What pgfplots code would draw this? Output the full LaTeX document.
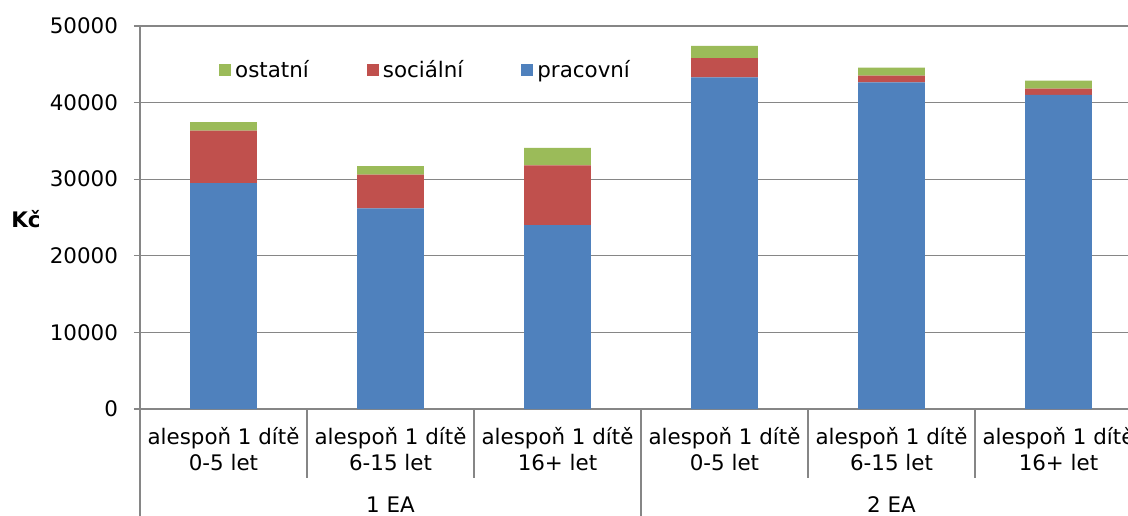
\documentclass[border=0pt]{standalone}
\usepackage{pgfplots}
\pgfplotsset{compat=1.18}
\usepackage{pgfplotstable}
\usepackage{fontspec}
\setmainfont{DejaVu Sans}

\definecolor{prac}{HTML}{4F81BD}
\definecolor{soc}{HTML}{C0504D}
\definecolor{ost}{HTML}{9BBB59}
\definecolor{gridc}{RGB}{134,134,134}

% x = category index, values in Kc
\pgfplotstableread{
x prac soc ost
0 29500 6850 1100
1 26200 4400 1100
2 24000 7800 2300
3 43300 2500 1600
4 42650 870 1040
5 41000 820 1040
}\data

\begin{document}
\begin{tikzpicture}[font=\fontsize{10.7}{13.3}\selectfont]
\useasboundingbox (-70pt,-53pt) rectangle (494pt,204.5pt);
\clip (-70pt,-53pt) rectangle (494pt,204.5pt);
\begin{axis}[
    scale only axis,
    width=501pt, height=191.5pt,
    at={(0,0)}, anchor=south west,
    ybar stacked, bar width=0.4,
    xmin=-0.5, xmax=5.5,
    ymin=0, ymax=50000,
    ytick={0,10000,...,50000},
    xtick=\empty,
    axis x line*=bottom, axis y line*=left,
    axis line style={gridc, line width=0.6pt, -},
    ymajorgrids, grid style={gridc, line width=0.6pt},
    tick align=outside, major tick length=3pt,
    ytick style={gridc, line width=0.6pt},
    scaled y ticks=false,
    yticklabel style={xshift=-4.5pt, /pgf/number format/1000 sep={}, /pgf/number format/assume math mode=true},
    clip=false,
    reverse legend,
    legend columns=3,
    legend image code/.code={\fill[#1] (0pt,-3pt) rectangle (6pt,3pt);},
    legend style={draw=none, fill=none, at={(0.286,0.885)}, anchor=center,
        /tikz/every even column/.append style={column sep=27pt}},
]
\addplot[fill=prac, draw=none] table[x=x, y=prac] {\data};
\addlegendentry{pracovní}
\addplot[fill=soc, draw=none] table[x=x, y=soc] {\data};
\addlegendentry{sociální}
\addplot[fill=ost, draw=none] table[x=x, y=ost] {\data};
\addlegendentry{ostatní}

% category separators
\draw[gridc, line width=0.6pt] (axis cs:0.5,0) -- ([yshift=-34.5pt]axis cs:0.5,0);
\draw[gridc, line width=0.6pt] (axis cs:1.5,0) -- ([yshift=-34.5pt]axis cs:1.5,0);
\draw[gridc, line width=0.6pt] (axis cs:3.5,0) -- ([yshift=-34.5pt]axis cs:3.5,0);
\draw[gridc, line width=0.6pt] (axis cs:4.5,0) -- ([yshift=-34.5pt]axis cs:4.5,0);
\draw[gridc, line width=0.6pt] (axis cs:-0.5,0) -- ([yshift=-60pt]axis cs:-0.5,0);
\draw[gridc, line width=0.6pt] (axis cs:2.5,0) -- ([yshift=-60pt]axis cs:2.5,0);
\draw[gridc, line width=0.6pt] (axis cs:5.5,0) -- ([yshift=-60pt]axis cs:5.5,0);

% category labels
\node[anchor=base] at (axis cs:0,0) [yshift=-17.5pt] {alespoň 1 dítě};
\node[anchor=base] at (axis cs:0,0) [yshift=-30.9pt] {0-5 let};
\node[anchor=base] at (axis cs:1,0) [yshift=-17.5pt] {alespoň 1 dítě};
\node[anchor=base] at (axis cs:1,0) [yshift=-30.9pt] {6-15 let};
\node[anchor=base] at (axis cs:2,0) [yshift=-17.5pt] {alespoň 1 dítě};
\node[anchor=base] at (axis cs:2,0) [yshift=-30.9pt] {16+ let};
\node[anchor=base] at (axis cs:3,0) [yshift=-17.5pt] {alespoň 1 dítě};
\node[anchor=base] at (axis cs:3,0) [yshift=-30.9pt] {0-5 let};
\node[anchor=base] at (axis cs:4,0) [yshift=-17.5pt] {alespoň 1 dítě};
\node[anchor=base] at (axis cs:4,0) [yshift=-30.9pt] {6-15 let};
\node[anchor=base] at (axis cs:5,0) [yshift=-17.5pt] {alespoň 1 dítě};
\node[anchor=base] at (axis cs:5,0) [yshift=-30.9pt] {16+ let};
% group labels
\node[anchor=base, inner sep=0pt] at (axis cs:1,0) [yshift=-51.8pt] {1 EA};
\node[anchor=base, inner sep=0pt] at (axis cs:4,0) [yshift=-51.8pt] {2 EA};
\end{axis}
\node[font=\fontsize{10.7}{13.3}\selectfont\bfseries] at (-57pt,95pt) {Kč};
\end{tikzpicture}
\end{document}
